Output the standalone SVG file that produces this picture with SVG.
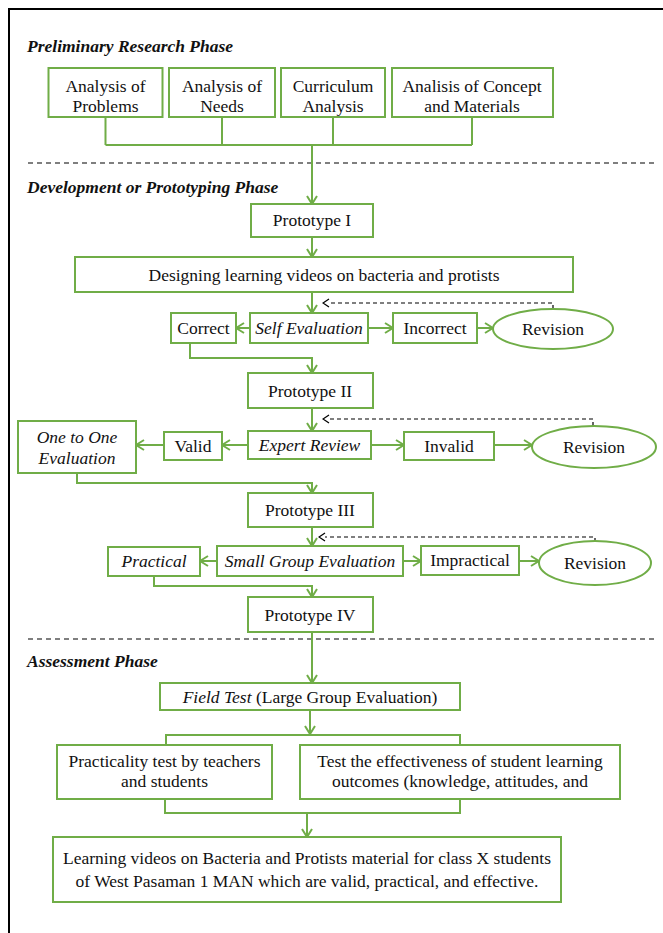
<svg xmlns="http://www.w3.org/2000/svg" width="663" height="933" viewBox="0 0 663 933">
<defs>
<style>
.bx{fill:#fff;stroke:#70AD47;stroke-width:2}
.ln{fill:none;stroke:#70AD47;stroke-width:2}
.ar{fill:none;stroke:#70AD47;stroke-width:2;marker-end:url(#ga)}
.da{fill:none;stroke:#000;stroke-width:1.2;stroke-dasharray:4,3;marker-end:url(#ba)}
.dl{fill:none;stroke:#000;stroke-width:1.2;stroke-dasharray:5,4}
text{font-family:'Liberation Serif','Times New Roman',serif;font-size:17.5px;fill:#111}
.t{text-anchor:middle}
.i{font-style:italic}
.h{font-weight:bold;font-style:italic}
</style>
<marker id="ga" viewBox="0 0 10 12" refX="9" refY="6" markerWidth="10" markerHeight="12" markerUnits="userSpaceOnUse" orient="auto">
<path d="M1,1 L9,6 L1,11" fill="none" stroke="#70AD47" stroke-width="2"/>
</marker>
<marker id="ba" viewBox="0 0 8 10" refX="1" refY="5" markerWidth="8" markerHeight="10" markerUnits="userSpaceOnUse" orient="auto">
<path d="M1,1 L7,5 L1,9" fill="none" stroke="#000" stroke-width="1.3"/>
</marker>
</defs>
<rect width="663" height="933" fill="#fff"/>
<path d="M9,933 L9,9 L663,9" fill="none" stroke="#000" stroke-width="2"/>

<text class="h" x="27" y="52">Preliminary Research Phase</text>
<text class="h" x="27" y="193">Development or Prototyping Phase</text>
<text class="h" x="27" y="667">Assessment Phase</text>
<line class="dl" x1="28" y1="163" x2="655" y2="163"/>
<line class="dl" x1="28" y1="639" x2="655" y2="639"/>

<g id="connectors">
<path class="ln" d="M105.5,117 V145 M222,117 V145 M333,117 V145 M472,117 V145 M105.5,145 H472"/>
<path class="ar" d="M312,145 V204"/>
<path class="ar" d="M312,237 V257"/>
<path class="ar" d="M312,292 V313"/>
<path class="da" d="M553,309 V303 H329"/>
<path class="ar" d="M250,328 H236"/>
<path class="ar" d="M368,328 H393"/>
<path class="ar" d="M477,328 H493"/>
<path class="ar" d="M190,343 V358 H312 V373"/>
<path class="ar" d="M312,408 V431"/>
<path class="da" d="M593,426 V419 H329"/>
<path class="ar" d="M248,445 H222"/>
<path class="ar" d="M164,445 H136"/>
<path class="ar" d="M371,445 H404"/>
<path class="ar" d="M494,445 H532"/>
<path class="ar" d="M77,473 V483 H312 V493"/>
<path class="ar" d="M312,527 V546"/>
<path class="da" d="M595,542 V537 H325"/>
<path class="ar" d="M217,561 H200"/>
<path class="ar" d="M403,561 H421"/>
<path class="ar" d="M519,561 H539"/>
<path class="ar" d="M154,576 V586 H312 V597"/>
<path class="ar" d="M312,632 V683"/>
<path class="ar" d="M310,710 V734"/>
<path class="ln" d="M166,745 V735 H460 V745"/>
<path class="ln" d="M165,799 V813 H460 V799"/>
<path class="ar" d="M307,813 V837"/>
</g>

<g id="n-problems"><rect class="bx" x="48.5" y="68" width="114" height="49"/><text class="t" x="105.5" y="92">Analysis of</text><text class="t" x="105.5" y="112">Problems</text></g>
<g id="n-needs"><rect class="bx" x="169" y="68" width="106" height="49"/><text class="t" x="222" y="92">Analysis of</text><text class="t" x="222" y="112">Needs</text></g>
<g id="n-curriculum"><rect class="bx" x="281" y="68" width="104" height="49"/><text class="t" x="333" y="92">Curriculum</text><text class="t" x="333" y="112">Analysis</text></g>
<g id="n-concept"><rect class="bx" x="392" y="68" width="161" height="49"/><text class="t" x="472" y="92">Analisis of Concept</text><text class="t" x="472" y="112">and Materials</text></g>

<g id="n-proto1"><rect class="bx" x="251" y="204" width="122" height="33"/><text class="t" x="312" y="226">Prototype I</text></g>
<g id="n-design"><rect class="bx" x="75" y="257" width="498" height="35"/><text class="t" x="324" y="281">Designing learning videos on bacteria and protists</text></g>

<g id="n-correct"><rect class="bx" x="171" y="313" width="65" height="30"/><text class="t" x="203.5" y="334">Correct</text></g>
<g id="n-selfeval"><rect class="bx" x="250" y="313" width="118" height="30"/><text class="t i" x="309" y="334">Self Evaluation</text></g>
<g id="n-incorrect"><rect class="bx" x="393" y="313" width="84" height="30"/><text class="t" x="435" y="334">Incorrect</text></g>
<g id="n-revision1"><ellipse class="bx" cx="553" cy="329" rx="60" ry="20"/><text class="t" x="553" y="335">Revision</text></g>

<g id="n-proto2"><rect class="bx" x="248" y="373" width="125" height="35"/><text class="t" x="310" y="397">Prototype II</text></g>

<g id="n-onetoone"><rect class="bx" x="18" y="421" width="118" height="52"/><text class="t i" x="77" y="443">One to One</text><text class="t i" x="77" y="464">Evaluation</text></g>
<g id="n-valid"><rect class="bx" x="164" y="432" width="58" height="28"/><text class="t" x="193" y="452">Valid</text></g>
<g id="n-expert"><rect class="bx" x="248" y="431" width="123" height="28"/><text class="t i" x="309.5" y="451">Expert Review</text></g>
<g id="n-invalid"><rect class="bx" x="404" y="432" width="90" height="28"/><text class="t" x="449" y="452">Invalid</text></g>
<g id="n-revision2"><ellipse class="bx" cx="594" cy="447" rx="62" ry="21"/><text class="t" x="594" y="453">Revision</text></g>

<g id="n-proto3"><rect class="bx" x="248" y="493" width="125" height="34"/><text class="t" x="310" y="516">Prototype III</text></g>

<g id="n-practical"><rect class="bx" x="108" y="547" width="92" height="29"/><text class="t i" x="154" y="567">Practical</text></g>
<g id="n-smallgroup"><rect class="bx" x="217" y="546" width="186" height="30"/><text class="t i" x="310" y="567">Small Group Evaluation</text></g>
<g id="n-impractical"><rect class="bx" x="421" y="546" width="98" height="29"/><text class="t" x="470" y="566">Impractical</text></g>
<g id="n-revision3"><ellipse class="bx" cx="595" cy="563" rx="56" ry="22"/><text class="t" x="595" y="569">Revision</text></g>

<g id="n-proto4"><rect class="bx" x="248" y="597" width="125" height="35"/><text class="t" x="310" y="621">Prototype IV</text></g>

<g id="n-fieldtest"><rect class="bx" x="160" y="683" width="300" height="27"/><text class="t" x="310" y="703"><tspan font-style="italic">Field Test</tspan> (Large Group Evaluation)</text></g>
<g id="n-practicality"><rect class="bx" x="57" y="745" width="215" height="54"/><text class="t" x="164.5" y="767">Practicality test by teachers</text><text class="t" x="164.5" y="787">and students</text></g>
<g id="n-effectiveness"><rect class="bx" x="300" y="745" width="320" height="54"/><text class="t" x="460" y="767">Test the effectiveness of student learning</text><text class="t" x="460" y="787">outcomes (knowledge, attitudes, and</text></g>

<g id="n-final"><rect class="bx" x="53" y="837" width="508" height="65"/><text class="t" x="307" y="864">Learning videos on Bacteria and Protists material for class X students</text><text class="t" x="307" y="887">of West Pasaman 1 MAN which are valid, practical, and effective.</text></g>
</svg>
